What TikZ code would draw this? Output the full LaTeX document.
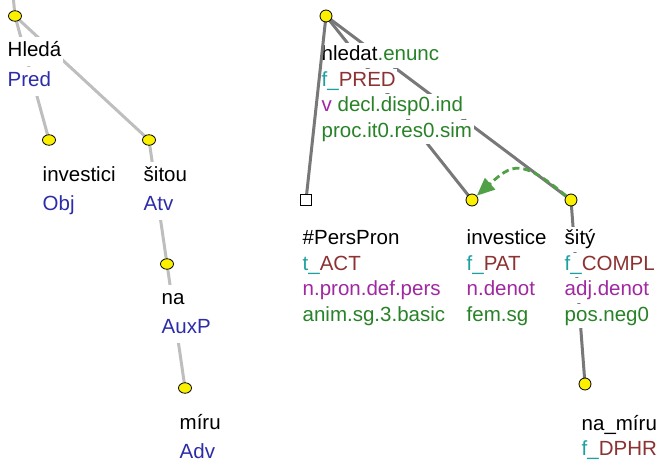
\documentclass[tikz,border=0pt]{standalone}
\usepackage{fontspec}
\setmainfont{Liberation Sans}
\usetikzlibrary{arrows.meta,shapes.geometric}
\definecolor{fnblue}{RGB}{45,45,170}
\definecolor{tteal}{RGB}{30,160,160}
\definecolor{tbrown}{RGB}{140,50,50}
\definecolor{tmag}{RGB}{160,40,160}
\definecolor{tgreen}{RGB}{40,130,40}
\definecolor{argreen}{RGB}{80,160,70}
\definecolor{ltgray}{RGB}{190,190,190}
\definecolor{dkgray}{RGB}{120,120,120}
\definecolor{nodeyellow}{RGB}{250,240,0}
\begin{document}
\begin{tikzpicture}[x=1pt,y=-1pt,
  every node/.style={font=\fontsize{20.5}{24}\selectfont},
  ledge/.style={draw=ltgray,line width=3pt},
  redge/.style={draw=dkgray,line width=3pt},
  lnode/.style={ellipse,draw=black,line width=0.8pt,fill=nodeyellow,minimum width=13pt,minimum height=10.5pt,inner sep=0pt},
  rnode/.style={circle,draw=black,line width=0.8pt,fill=nodeyellow,minimum size=12pt,inner sep=0pt},
  sqnode/.style={rectangle,draw=black,line width=0.9pt,fill=white,minimum size=11pt,inner sep=0pt},
  llbl/.style={anchor=base west,fill=white,inner xsep=1.5pt,inner ysep=4pt,text height=16pt,text depth=5pt},
  rlbl/.style={anchor=base west,fill=white,inner xsep=1.5pt,inner ysep=1.75pt,text height=16pt,text depth=5pt},
  coref/.style={draw=argreen,line width=2.8pt,dash pattern=on 7pt off 4pt,-{Triangle[length=18pt,width=15pt]}}
]
\useasboundingbox (0,0) rectangle (659,462);

% ---------- left tree: positions ----------
\coordinate (ltop) at (13.5,0);
\coordinate (lroot) at (15,16);
\coordinate (linv) at (49,140);
\coordinate (lsit) at (149,140);
\coordinate (lna) at (167,264);
\coordinate (lmir) at (185,388);

% ---------- right tree: positions ----------
\coordinate (rroot) at (326,16);
\coordinate (rpers) at (306,200);
\coordinate (rinv) at (472,200);
\coordinate (rsit) at (571,200);
\coordinate (rnam) at (585,384);

% ---------- edges (behind labels) ----------
\draw[ledge] (ltop) -- (lroot);
\draw[ledge] (lroot) -- (linv);
\draw[ledge] (lroot) -- (lsit);
\draw[ledge] (lsit) -- (lna);
\draw[ledge] (lna) -- (lmir);

\draw[redge] (rroot) -- (rinv);
\draw[redge] (rroot) -- (rsit);
\draw[redge] (rsit) -- (rnam);

% ---------- left labels ----------
\node[llbl] (l1a) at (6,57) {Hledá};
\node[llbl,text=fnblue] (l1b) at (6,87) {Pred};
\node[llbl] (l2a) at (41,182) {investici};
\node[llbl,text=fnblue] (l2b) at (41,211) {Obj};
\node[llbl] (l3a) at (142,182) {šitou};
\node[llbl,text=fnblue] (l3b) at (142,211) {Atv};
\node[llbl] (l4a) at (160,305) {na};
\node[llbl,text=fnblue] (l4b) at (160,334) {AuxP};
\node[llbl] (l5a) at (178,429) {míru};
\node[llbl,text=fnblue] (l5b) at (178,458) {Adv};

% ---------- right labels ----------
\node[rlbl] (r1a) at (320,61) {hledat\textcolor{tgreen}{.enunc}};
\node[rlbl] (r1b) at (320,86.5) {\textcolor{tteal}{f\_}\textcolor{tbrown}{PRED}};
\node[rlbl] (r1c) at (320,112) {\textcolor{tmag}{v} \textcolor{tgreen}{decl.disp0.ind}};
\node[rlbl,text=tgreen] (r1d) at (320,137.5) {proc.it0.res0.sim};

\node[rlbl] (r2a) at (301,245) {\#PersPron};
\node[rlbl] (r2b) at (301,270.5) {\textcolor{tteal}{t\_}\textcolor{tbrown}{ACT}};
\node[rlbl,text=tmag] (r2c) at (301,296) {n.pron.def.pers};
\node[rlbl,text=tgreen] (r2d) at (301,321.5) {anim.sg.3.basic};

\node[rlbl] (r3a) at (465,245) {investice};
\node[rlbl] (r3b) at (465,270.5) {\textcolor{tteal}{f\_}\textcolor{tbrown}{PAT}};
\node[rlbl,text=tmag] (r3c) at (465,296) {n.denot};
\node[rlbl,text=tgreen] (r3d) at (465,321.5) {fem.sg};

\node[rlbl] (r4a) at (563,245) {šitý};
\node[rlbl] (r4b) at (563,270.5) {\textcolor{tteal}{f\_}\textcolor{tbrown}{COMPL}};
\node[rlbl,text=tmag] (r4c) at (563,296) {adj.denot};
\node[rlbl,text=tgreen] (r4d) at (563,321.5) {pos.neg0};

\node[rlbl] (r5a) at (580,430) {na\_míru};
\node[rlbl] (r5b) at (580,455.5) {\textcolor{tteal}{f\_}\textcolor{tbrown}{DPHR}};

% edge passing beside the root label
\draw[redge] (rroot) -- (rpers);

% ---------- tree nodes ----------
\node[lnode] (nlroot) at (lroot) {};
\node[lnode] (nlinv) at (linv) {};
\node[lnode] (nlsit) at (lsit) {};
\node[lnode] (nlna) at (lna) {};
\node[lnode] (nlmir) at (lmir) {};

\node[rnode] (nrroot) at (rroot) {};
\node[sqnode] (nrpers) at (rpers) {};
\node[rnode] (nrinv) at (rinv) {};
\node[rnode] (nrsit) at (rsit) {};
\node[rnode] (nrnam) at (rnam) {};

% ---------- coreference arrow ----------
\draw[coref] (nrsit) .. controls +(-50,-42) and +(40,-36) .. (nrinv);
\end{tikzpicture}
\end{document}
